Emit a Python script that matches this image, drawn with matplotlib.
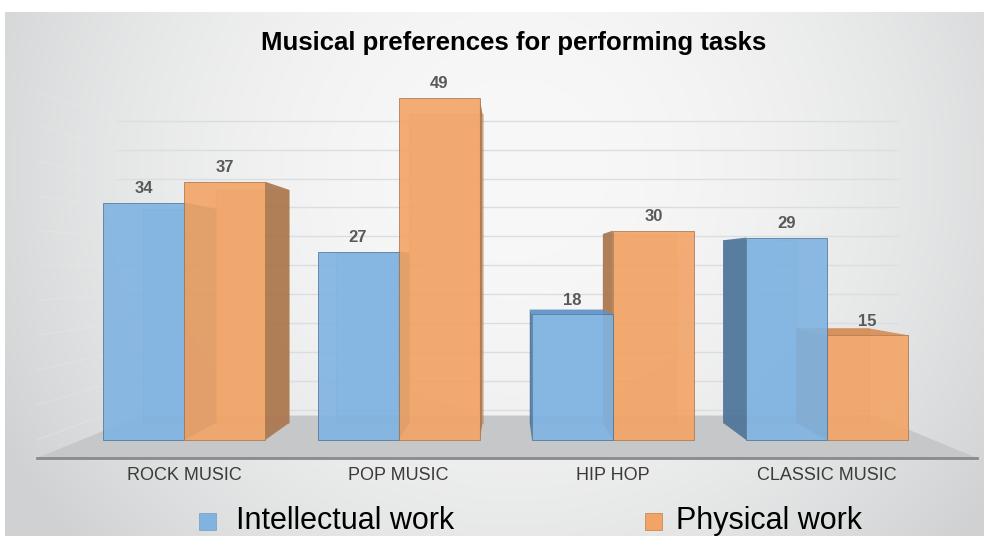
import numpy as np
import matplotlib
matplotlib.use("Agg")
import matplotlib.pyplot as plt
from matplotlib.patches import Polygon, Rectangle
from matplotlib.colors import to_rgb

# data
categories = ["ROCK MUSIC", "POP MUSIC", "HIP HOP", "CLASSIC MUSIC"]
intellectual = [34, 27, 18, 29]
physical = [37, 49, 30, 15]
series_names = ["Intellectual work", "Physical work"]

# colours
blue_front = "#7fb3e2"
blue_side = "#4d7397"
blue_top = "#5f93c6"
orange_front = "#f2a466"
orange_side = "#a9754c"
orange_top = "#d88b50"
label_gray = "#595959"

plt.rcParams["font.family"] = ["Liberation Sans", "DejaVu Sans"]

W, H = 984, 536
fig = plt.figure(figsize=(W / 100, H / 100), dpi=100, facecolor="white")

# background panel with soft gradient
bg = fig.add_axes([5 / W, 0, 1 - 5 / W, 1 - 12 / H])
gx, gy = np.meshgrid(np.linspace(0, 1, 300), np.linspace(0, 1, 200))
s = np.clip(((gx - 0.52) / 0.6) ** 2 + ((gy - 0.3) / 1.1) ** 2, 0, 1)
c_in = np.array(to_rgb("#f8f8f8"))
c_out = np.array(to_rgb("#cfd1d2"))
img = c_in + (c_out - c_in) * s[..., None]
bg.imshow(img, aspect="auto", extent=[0, 1, 0, 1], origin="upper")
bg.axis("off")

ax = fig.add_axes([0, 0, 1, 1])
ax.patch.set_alpha(0)
ax.axis("off")
# pixel -> data: x_px = 184.3 + 214.3*x, y_px = 440 - 6.98*v
ax.set_xlim(-184.3 / 214.3, (W - 184.3) / 214.3)
ax.set_ylim((440 - H) / 6.98, 440 / 6.98)

# one-point perspective for the 3D look
vx, vy = (510 - 184.3) / 214.3, (440 - 265) / 6.98
depth = 0.0977


def proj(x, y, t=depth):
    return (x + (vx - x) * t, y + (vy - y) * t)


# back wall and side wall gridlines
floor_l, floor_r, floor_y = (37 - 184.3) / 214.3, (977 - 184.3) / 214.3, (440 - 458) / 6.98
for g in range(0, 55, 5):
    p1 = proj(floor_l, g, 0.17)
    p2 = proj(floor_r, g, 0.17)
    ax.plot([p1[0], p2[0]], [p1[1], p2[1]], color="#dcdddf", lw=1, zorder=1)
    ax.plot([floor_l, p1[0]], [g, p1[1]], color="#e9ebec", lw=0.8, alpha=0.35, zorder=1)

# floor
floor = [(floor_l, floor_y), (floor_r, floor_y), proj(floor_r, floor_y, 0.22), proj(floor_l, floor_y, 0.22)]
ax.add_patch(Polygon(floor, closed=True, facecolor="#c6c7c8", edgecolor="none", zorder=2))
ax.plot([floor_l, floor_r], [floor_y, floor_y], color="#8a8a8a", lw=2, zorder=3)

bar_w = 0.378
x = np.arange(len(categories))


def draw_box(left, value, front, side, top, z):
    right = left + bar_w
    # back edges seen through the translucent front
    back = [proj(left, 0), proj(right, 0), proj(right, value), proj(left, value)]
    ax.add_patch(Polygon(back, closed=True, facecolor=front, alpha=0.35,
                         edgecolor=side, lw=0.6, zorder=z))
    if right < vx:
        face = [(right, 0), proj(right, 0), proj(right, value), (right, value)]
        ax.add_patch(Polygon(face, closed=True, facecolor=side, alpha=0.9,
                             edgecolor="none", zorder=z + 0.1))
    elif left > vx:
        face = [(left, 0), proj(left, 0), proj(left, value), (left, value)]
        ax.add_patch(Polygon(face, closed=True, facecolor=side, alpha=0.9,
                             edgecolor="none", zorder=z + 0.1))
    if value < vy:
        face = [(left, value), (right, value), proj(right, value), proj(left, value)]
        ax.add_patch(Polygon(face, closed=True, facecolor=top, alpha=0.9,
                             edgecolor="none", zorder=z + 0.2))
    ax.bar(left, value, width=bar_w, align="edge", color=front, alpha=0.9,
           edgecolor=side, linewidth=0.6, zorder=z + 0.3)
    ax.annotate(str(value), (left + bar_w / 2, value), xytext=(0, 7),
                textcoords="offset points", ha="center", va="baseline",
                fontsize=12, fontweight="bold", color=label_gray, zorder=20)


z = 4
for i in range(len(categories)):
    blue = (x[i] - bar_w, intellectual[i], blue_front, blue_side, blue_top)
    orange = (x[i], physical[i], orange_front, orange_side, orange_top)
    order = [blue, orange] if x[i] < vx else [orange, blue]
    for b in order:
        draw_box(*b, z)
        z += 1
    ax.text(x[i], (440 - 480) / 6.98, categories[i], ha="center", va="baseline",
            fontsize=13, color="#3a3a3a", zorder=20)

# title
fig.text(514 / W, 1 - 50 / H, "Musical preferences for performing tasks",
         ha="center", va="baseline", fontsize=18.5, fontweight="bold", color="black")

# legend
for sx, tx, col, name in [(199, 236, blue_front, series_names[0]),
                          (645, 676, orange_front, series_names[1])]:
    fig.patches.append(Rectangle((sx / W, 1 - 530 / H), 17 / W, 17 / H,
                                 transform=fig.transFigure, facecolor=col,
                                 edgecolor="#8aa0b5" if col == blue_front else "#c98a55",
                                 lw=0.6))
    fig.text(tx / W, 1 - 529 / H, name, ha="left", va="baseline",
             fontsize=22, color="black")

fig.savefig("out.png", dpi=100)
